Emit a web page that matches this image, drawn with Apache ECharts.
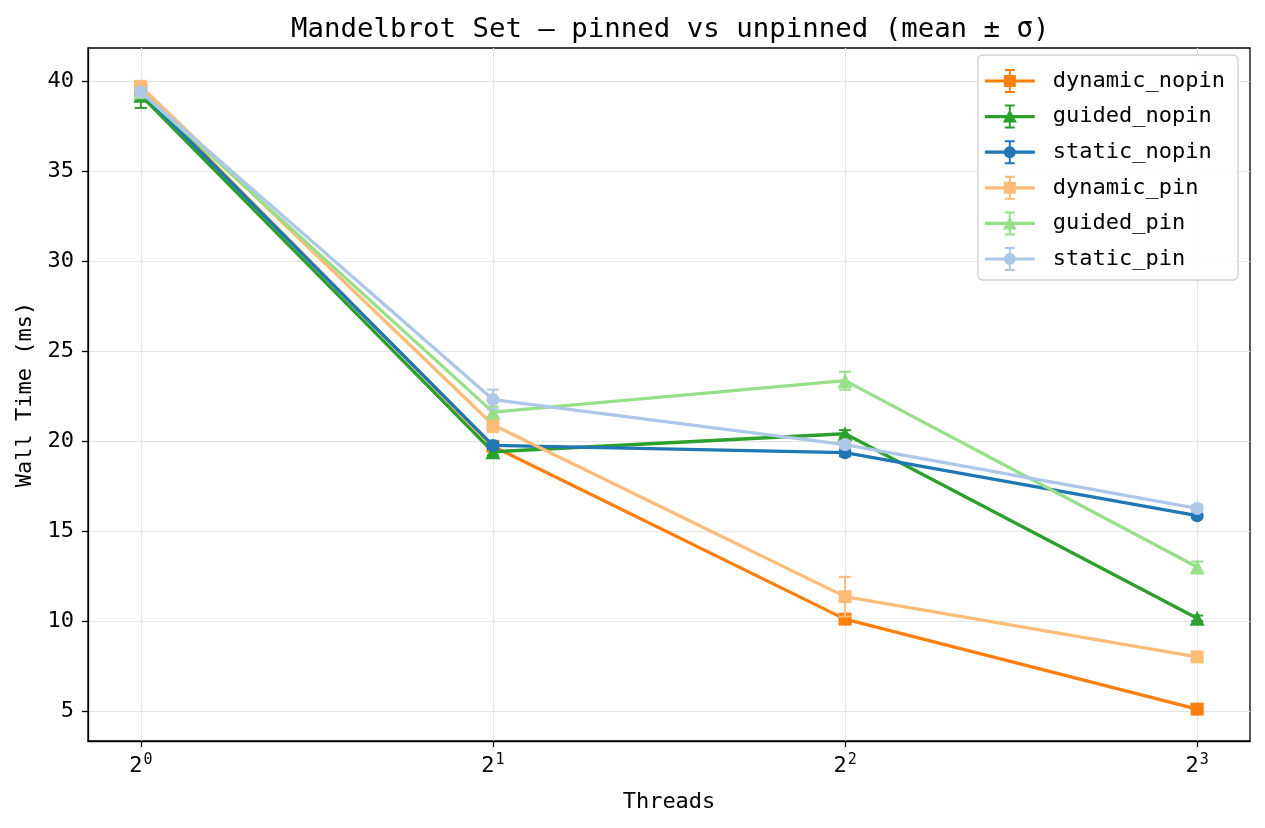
<!DOCTYPE html>
<html><head><meta charset="utf-8">
<script src="https://cdn.jsdelivr.net/npm/echarts@6/dist/echarts.min.js"></script>
<style>html,body{margin:0;padding:0;background:#fff}#c{width:1265px;height:828px}</style>
</head><body><div id="c"></div>
<script>
// log2(threads)
const threadsExp = [0, 1, 2, 3];
const xTickLabels = ['0', '1', '2', '3'];
const yTicks = [5, 10, 15, 20, 25, 30, 35, 40];
const seriesNames = ['dynamic_nopin', 'guided_nopin', 'static_nopin', 'dynamic_pin', 'guided_pin', 'static_pin'];
const dynamic_nopin = [39.5, 19.7, 10.1, 5.1];
const guided_nopin = [39.2, 19.4, 20.4, 10.15];
const static_nopin = [39.4, 19.75, 19.35, 15.85];
const dynamic_pin = [39.7, 20.9, 11.35, 8.0];
const guided_pin = [39.4, 21.6, 23.35, 13.0];
const static_pin = [39.4, 22.3, 19.8, 16.25];
const dynamic_nopin_sd = [0.2, 0.2, 0.2, 0.15];
const guided_nopin_sd = [0.7, 0.2, 0.2, 0.15];
const static_nopin_sd = [0.2, 0.2, 0.2, 0.15];
const dynamic_pin_sd = [0.2, 0.4, 1.1, 0.2];
const guided_pin_sd = [0.2, 0.3, 0.5, 0.3];
const static_pin_sd = [0.2, 0.55, 0.2, 0.2];

const means = [dynamic_nopin, guided_nopin, static_nopin, dynamic_pin, guided_pin, static_pin];
const sds = [dynamic_nopin_sd, guided_nopin_sd, static_nopin_sd, dynamic_pin_sd, guided_pin_sd, static_pin_sd];
const colors = ['#ff7f0e', '#2ca02c', '#1f77b4', '#ffbb78', '#98df8a', '#aec7e8'];
const symbols = ['rect', 'triangle', 'circle', 'rect', 'triangle', 'circle'];
const symSizes = [13, 15, 13, 13, 15, 13];

// legend icons: line + errorbar + marker (in a 50x24 box)
const iconBase = 'M0 10.4H50V13.6H0Z M24 1H26V23H24Z M20 0H30V2H20Z M20 22H30V24H20Z ';
const iconMarker = {
  rect: 'M19 6H31V18H19Z',
  circle: 'M19 12A6 6 0 0 1 31 12A6 6 0 0 1 19 12Z',
  triangle: 'M25 5L32 18H18Z'
};

const FONT = 'DejaVu Sans Mono';
const series = [];
seriesNames.forEach((name, i) => {
  series.push({
    name: name + '_err',
    type: 'custom',
    z: 2 + i * 2,
    silent: true,
    data: threadsExp.map((x, j) => [x, means[i][j], sds[i][j]]),
    renderItem: function (params, api) {
      const x = api.value(0), y = api.value(1), e = api.value(2);
      const top = api.coord([x, y + e]);
      const bot = api.coord([x, y - e]);
      const st = { stroke: colors[i], lineWidth: 2 };
      return {
        type: 'group',
        children: [
          { type: 'line', shape: { x1: top[0], y1: top[1], x2: bot[0], y2: bot[1] }, style: st },
          { type: 'line', shape: { x1: top[0] - 6, y1: top[1], x2: top[0] + 6, y2: top[1] }, style: st },
          { type: 'line', shape: { x1: bot[0] - 6, y1: bot[1], x2: bot[0] + 6, y2: bot[1] }, style: st }
        ]
      };
    }
  });
  series.push({
    name: name,
    type: 'line',
    z: 3 + i * 2,
    data: threadsExp.map((x, j) => [x, means[i][j]]),
    symbol: symbols[i],
    symbolSize: symSizes[i],
    showSymbol: true,
    lineStyle: { color: colors[i], width: 3.3 },
    itemStyle: { color: colors[i], borderWidth: 0 },
    emphasis: { disabled: true },
    animation: false
  });
});

const legendData = seriesNames.map((n, i) => ({
  name: n,
  icon: 'path://' + iconBase + iconMarker[symbols[i]],
  itemStyle: { color: colors[i], borderWidth: 0 }
}));

const chart = echarts.init(document.getElementById('c'), null, { renderer: 'canvas' });
chart.setOption({
  animation: false,
  backgroundColor: '#fff',
  title: {
    text: 'Mandelbrot Set — pinned vs unpinned (mean ± σ)',
    left: 286, top: 11,
    textStyle: { fontFamily: FONT, fontSize: 27.4, fontWeight: 'normal', color: '#000' }
  },
  grid: { left: 88, right: 15, top: 48, bottom: 87, show: true, borderColor: '#000', borderWidth: 1.3, backgroundColor: 'transparent', containLabel: false },
  legend: {
    data: legendData,
    orient: 'vertical',
    right: 27, top: 55,
    itemWidth: 50, itemHeight: 24, itemGap: 11.6,
    backgroundColor: 'rgba(255,255,255,0.85)',
    borderColor: '#d0d0d0', borderWidth: 1.3, borderRadius: 5,
    padding: [14, 13, 9, 7],
    textStyle: { fontFamily: FONT, fontSize: 22, color: '#000', padding: [0, 0, 0, 13] }
  },
  xAxis: {
    type: 'value',
    min: -0.15, max: 3.15,
    name: 'Threads', nameLocation: 'middle', nameGap: 50,
    nameTextStyle: { fontFamily: FONT, fontSize: 22, color: '#000' },
    axisLine: { show: true, onZero: false, lineStyle: { color: '#000', width: 1.3 } },
    axisTick: { show: true, inside: false, customValues: threadsExp, length: 6, lineStyle: { color: '#000', width: 1.3 } },
    axisLabel: {
      customValues: threadsExp,
      margin: 12,
      formatter: function (v) { return '{b|2}{s|' + xTickLabels[Math.round(v)] + '}'; },
      rich: {
        b: { fontFamily: FONT, fontSize: 22, color: '#000', lineHeight: 24, verticalAlign: 'bottom' },
        s: { fontFamily: FONT, fontSize: 15, color: '#000', lineHeight: 24, verticalAlign: 'top', padding: [0, 0, 10, 1] }
      }
    },
    splitLine: { show: true, lineStyle: { color: '#e6e6e6', width: 1.2 } }
  },
  yAxis: {
    type: 'value',
    min: 3.33, max: 41.83,
    name: 'Wall Time (ms)', nameLocation: 'middle', nameGap: 48, nameRotate: 90,
    nameTextStyle: { fontFamily: FONT, fontSize: 22, color: '#000' },
    axisLine: { show: true, onZero: false, lineStyle: { color: '#000', width: 1.3 } },
    axisTick: { show: true, inside: false, customValues: yTicks, length: 6, lineStyle: { color: '#000', width: 1.3 } },
    axisLabel: { customValues: yTicks, margin: 14, fontFamily: FONT, fontSize: 22, color: '#000' },
    splitLine: { show: true, lineStyle: { color: '#e6e6e6', width: 1.2 } }
  },
  series: series
});
</script></body></html>
